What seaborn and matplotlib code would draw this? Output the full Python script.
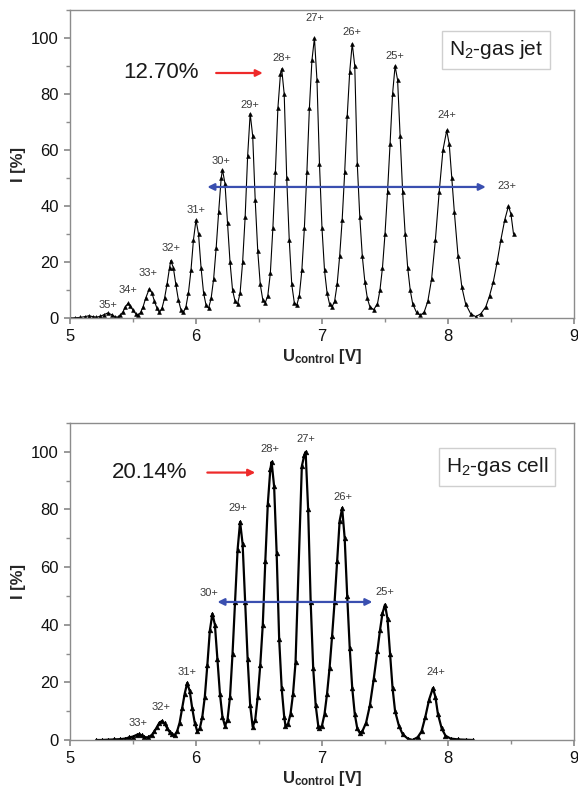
import numpy as np
import pandas as pd
import matplotlib
matplotlib.use("Agg")
import matplotlib.pyplot as plt
from matplotlib.ticker import MultipleLocator
import seaborn as sns

# ---------------- data ----------------
n2_u = [5.00, 5.04, 5.08, 5.12, 5.15, 5.18, 5.21, 5.24, 5.27, 5.30, 5.33, 5.36, 5.38,
        5.40, 5.42, 5.44, 5.46, 5.48, 5.50, 5.52, 5.54, 5.56,
        5.58, 5.60, 5.63, 5.65, 5.67, 5.69, 5.71, 5.73,
        5.75, 5.77, 5.79, 5.80, 5.82, 5.84, 5.86, 5.88, 5.90, 5.92,
        5.94, 5.96, 5.98, 6.00, 6.02, 6.04, 6.06, 6.08, 6.10, 6.12,
        6.14, 6.16, 6.18, 6.20, 6.21, 6.23, 6.25, 6.27, 6.29, 6.31, 6.33, 6.35,
        6.37, 6.39, 6.41, 6.43, 6.45, 6.47, 6.49, 6.51, 6.53, 6.55, 6.57,
        6.59, 6.61, 6.63, 6.65, 6.67, 6.68, 6.70, 6.72, 6.74, 6.76, 6.78, 6.80, 6.82,
        6.84, 6.86, 6.88, 6.90, 6.92, 6.94, 6.96, 6.98, 7.00, 7.02, 7.04, 7.06, 7.08, 7.10,
        7.12, 7.14, 7.16, 7.18, 7.20, 7.22, 7.24, 7.26, 7.28, 7.30, 7.32, 7.34, 7.36, 7.38, 7.41, 7.44,
        7.46, 7.48, 7.50, 7.52, 7.54, 7.56, 7.58, 7.60, 7.62, 7.64, 7.66, 7.68, 7.70, 7.72, 7.75, 7.78, 7.81,
        7.84, 7.87, 7.90, 7.93, 7.96, 7.99, 8.01, 8.03, 8.05, 8.08, 8.11, 8.14, 8.18, 8.22, 8.26,
        8.30, 8.33, 8.36, 8.39, 8.42, 8.45, 8.48, 8.50, 8.52]
n2_i = [0.0, 0.1, 0.2, 0.5, 0.8, 0.5, 0.3, 0.6, 1.2, 1.8, 1.2, 0.4, 0.3,
        1.0, 2.2, 4.0, 5.2, 4.2, 2.8, 1.6, 1.0, 2.0,
        4.0, 7.0, 10.5, 9.0, 6.0, 3.5, 2.0, 3.5,
        7.0, 12.0, 18.0, 20.5, 18.0, 12.0, 6.5, 3.0, 2.0, 4.0,
        9.0, 17.0, 28.0, 35.0, 30.0, 18.0, 9.0, 4.5, 3.5, 7.0,
        14.0, 25.0, 38.0, 50.0, 53.0, 48.0, 34.0, 20.0, 10.0, 6.0, 5.0, 9.0,
        20.0, 36.0, 58.0, 73.0, 65.0, 42.0, 24.0, 12.0, 6.5, 5.5, 8.0,
        16.0, 32.0, 52.0, 75.0, 87.0, 89.0, 80.0, 50.0, 28.0, 12.0, 5.5, 4.6, 8.0,
        17.0, 32.0, 52.0, 75.0, 92.0, 100.0, 85.0, 55.0, 32.0, 17.0, 9.0, 5.0, 4.0, 6.0,
        12.0, 22.0, 35.0, 52.0, 72.0, 88.0, 98.0, 90.0, 55.0, 36.0, 22.0, 13.0, 7.0, 4.0, 3.0, 5.0,
        10.0, 18.0, 30.0, 45.0, 62.0, 80.0, 90.0, 85.0, 65.0, 45.0, 30.0, 18.0, 10.0, 5.0, 2.0, 1.0, 2.0,
        6.0, 14.0, 28.0, 45.0, 60.0, 67.0, 62.0, 50.0, 38.0, 22.0, 11.0, 5.0, 1.5, 0.5, 1.5,
        4.0, 8.0, 13.0, 20.0, 28.0, 35.0, 40.0, 37.0, 30.0]

h2_u = [5.21, 5.25, 5.30, 5.35, 5.40, 5.44, 5.47, 5.50, 5.53, 5.55, 5.57, 5.59, 5.62, 5.65,
        5.67, 5.69, 5.71, 5.73, 5.75, 5.77, 5.79, 5.81, 5.83, 5.85,
        5.87, 5.89, 5.91, 5.93, 5.95, 5.97, 5.99, 6.01, 6.03,
        6.05, 6.07, 6.09, 6.11, 6.13, 6.15, 6.17, 6.19, 6.21, 6.23, 6.25,
        6.27, 6.29, 6.31, 6.33, 6.35, 6.37, 6.39, 6.41, 6.43, 6.45, 6.47,
        6.49, 6.51, 6.53, 6.55, 6.57, 6.59, 6.60, 6.62, 6.64, 6.66, 6.68, 6.70, 6.71,
        6.73, 6.75, 6.77, 6.79,
        6.84, 6.86, 6.87, 6.89, 6.91, 6.93, 6.95, 6.97, 6.98, 7.00,
        7.02, 7.04, 7.06, 7.08, 7.10, 7.12, 7.14, 7.16, 7.18, 7.20, 7.22, 7.24, 7.26, 7.28, 7.30, 7.32,
        7.35, 7.38, 7.41, 7.44, 7.46, 7.48, 7.50, 7.52, 7.54, 7.56, 7.58, 7.61, 7.64, 7.68, 7.72, 7.76,
        7.79, 7.82, 7.85, 7.88, 7.90, 7.92, 7.95, 7.98, 8.02, 8.08, 8.14, 8.20]
h2_i = [0.0, 0.0, 0.1, 0.2, 0.3, 0.5, 0.9, 1.2, 1.8, 2.0, 1.6, 1.0, 0.9, 1.8,
        3.0, 4.5, 6.0, 6.6, 5.8, 4.2, 2.8, 2.0, 1.7, 3.0,
        6.0, 11.0, 16.0, 19.8, 17.0, 11.0, 6.0, 3.0, 4.0,
        8.0, 15.0, 26.0, 38.0, 43.8, 40.0, 28.0, 16.0, 8.0, 4.9, 7.0,
        15.0, 30.0, 48.0, 66.0, 75.7, 68.0, 48.0, 28.0, 12.0, 4.5, 7.0,
        15.0, 26.0, 40.0, 62.0, 82.0, 94.0, 96.5, 88.0, 65.0, 35.0, 18.0, 8.0, 5.0,
        5.5, 9.0, 16.0, 27.0,
        95.0, 99.0, 100.0, 80.0, 48.0, 25.0, 12.0, 5.0, 4.0, 5.0,
        9.0, 16.0, 25.0, 36.0, 48.0, 62.0, 76.0, 80.5, 70.0, 50.0, 32.0, 18.0, 9.0, 4.0, 2.4, 3.0,
        6.0, 12.0, 21.0, 31.0, 38.0, 44.0, 47.0, 42.0, 30.0, 18.0, 10.0, 5.0, 2.0, 0.5, 0.0, 1.0,
        3.0, 8.0, 14.0, 18.0, 15.0, 9.0, 4.0, 1.5, 0.5, 0.2, 0.1, 0.0]

n2_labels = ["35+", "34+", "33+", "32+", "31+", "30+", "29+", "28+", "27+", "26+", "25+", "24+", "23+"]
n2_label_u = [5.30, 5.46, 5.62, 5.80, 6.00, 6.20, 6.43, 6.68, 6.94, 7.24, 7.58, 7.99, 8.47]
n2_label_i = [4.6, 10.0, 16.0, 25.0, 38.6, 56.0, 76.0, 93.0, 107.0, 102.0, 93.6, 72.5, 47.0]

h2_labels = ["33+", "32+", "31+", "30+", "29+", "28+", "27+", "26+", "25+", "24+"]
h2_label_u = [5.54, 5.72, 5.93, 6.10, 6.33, 6.59, 6.87, 7.17, 7.50, 7.90]
h2_label_i = [5.9, 11.5, 23.6, 51.0, 80.5, 101.0, 104.5, 84.4, 51.4, 23.6]

n2_eff = "12.70%"
h2_eff = "20.14%"
n2_title = "N$_2$-gas jet"
h2_title = "H$_2$-gas cell"

# ---------------- style ----------------
sns.set_theme(style="white")
plt.rcParams["font.family"] = ["Liberation Sans", "DejaVu Sans"]
plt.rcParams["mathtext.fontset"] = "custom"
plt.rcParams["mathtext.rm"] = "Liberation Sans"
plt.rcParams["mathtext.it"] = "Liberation Sans:italic"
plt.rcParams["mathtext.bf"] = "Liberation Sans:bold"

fig = plt.figure(figsize=(5.78, 7.93), dpi=100)
ax1 = fig.add_axes([70 / 578, 1 - 318 / 793, 504 / 578, 308 / 793])
ax2 = fig.add_axes([70 / 578, 1 - 740 / 793, 504 / 578, 317 / 793])

spine_col = "#8c8c8c"


def style_axis(ax):
    ax.set_xlim(5, 9)
    ax.set_ylim(0, 110)
    ax.xaxis.set_major_locator(MultipleLocator(1))
    ax.xaxis.set_minor_locator(MultipleLocator(0.5))
    ax.yaxis.set_major_locator(MultipleLocator(20))
    ax.yaxis.set_minor_locator(MultipleLocator(10))
    for s in ax.spines.values():
        s.set_color(spine_col)
        s.set_linewidth(1.0)
    ax.tick_params(which="both", direction="out", color=spine_col, left=True, bottom=True)
    ax.tick_params(which="major", length=4, labelsize=12, labelcolor="#111111", pad=4)
    ax.tick_params(which="minor", length=3)
    ax.set_xlabel("U$_{\\mathbf{control}}$ [V]", fontsize=12, fontweight="bold", labelpad=2)
    ax.set_ylabel("I [%]", fontsize=12, fontweight="bold", labelpad=4)
    ax.grid(False)


def draw(ax, u, i, labels, lu, li, eff, eff_u, eff_i, red_u0, red_u1, blue_u0, blue_u1, blue_i,
         title, box_xy, lw, ms):
    df = pd.DataFrame({"U": u, "I": i})
    sns.lineplot(data=df, x="U", y="I", ax=ax, color="black", linewidth=lw,
                 marker="^", markersize=ms, markeredgewidth=0.4, markeredgecolor="black",
                 estimator=None, sort=False)
    for t, x, y in zip(labels, lu, li):
        ax.text(x, y, t, ha="center", va="center", fontsize=8, color="#3a3a3a")
    ax.text(eff_u, eff_i, eff, ha="left", va="center", fontsize=16, color="#1a1a1a")
    ax.annotate("", xy=(red_u1, eff_i), xytext=(red_u0, eff_i),
                arrowprops=dict(arrowstyle="-|>", color="#ee2a2a", lw=1.6,
                                mutation_scale=10, shrinkA=0, shrinkB=0))
    ax.annotate("", xy=(blue_u0, blue_i), xytext=(blue_u1, blue_i),
                arrowprops=dict(arrowstyle="<|-|>", color="#3a4fb0", lw=1.6,
                                mutation_scale=10, shrinkA=0, shrinkB=0))
    ax.text(box_xy[0], box_xy[1], title, transform=ax.transAxes, ha="center", va="center",
            fontsize=15, color="#1a1a1a",
            bbox=dict(boxstyle="square,pad=0.35", fc="white", ec="#cfcfcf", lw=1.0))
    style_axis(ax)


draw(ax1, n2_u, n2_i, n2_labels, n2_label_u, n2_label_i, n2_eff, 5.42, 87.5,
     6.16, 6.53, 6.09, 8.30, 46.8, n2_title,
     ((496 - 70) / 504, (318 - 50) / 308), 0.8, 2.8)
draw(ax2, h2_u, h2_i, h2_labels, h2_label_u, h2_label_i, h2_eff, 5.33, 92.8,
     6.09, 6.47, 6.17, 7.40, 47.9, h2_title,
     ((497 - 70) / 504, (740 - 467) / 317), 1.6, 3.4)

fig.savefig("out.png", dpi=100, facecolor="white")
